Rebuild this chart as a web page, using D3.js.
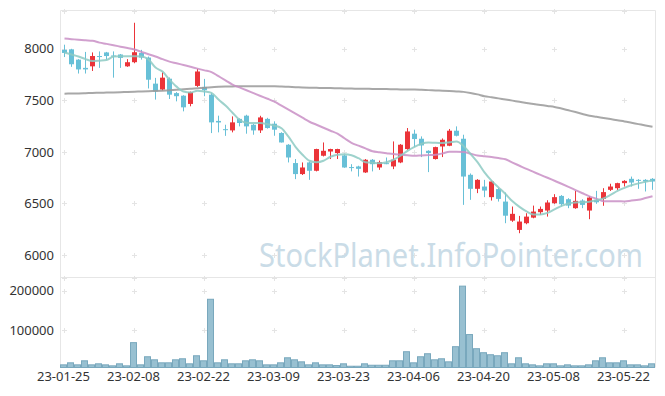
<!DOCTYPE html>
<html>
<head>
<meta charset="utf-8">
<script src="https://cdn.jsdelivr.net/npm/d3@7"></script>
<style>
  body { margin: 0; background: #fff; }
  text { font-family: "Noto Sans", sans-serif; }
</style>
</head>
<body>
<svg id="chart" width="665" height="396"></svg>
<script>
// trading days
var dates = ["23-01-25","23-01-26","23-01-27","23-01-30","23-01-31","23-02-01","23-02-02","23-02-03","23-02-06","23-02-07",
  "23-02-08","23-02-09","23-02-10","23-02-13","23-02-14","23-02-15","23-02-16","23-02-17","23-02-20","23-02-21",
  "23-02-22","23-02-23","23-02-24","23-02-27","23-02-28","23-03-02","23-03-03","23-03-06","23-03-07","23-03-08",
  "23-03-09","23-03-10","23-03-13","23-03-14","23-03-15","23-03-16","23-03-17","23-03-20","23-03-21","23-03-22",
  "23-03-23","23-03-24","23-03-27","23-03-28","23-03-29","23-03-30","23-03-31","23-04-03","23-04-04","23-04-05",
  "23-04-06","23-04-07","23-04-10","23-04-11","23-04-12","23-04-13","23-04-14","23-04-17","23-04-18","23-04-19",
  "23-04-20","23-04-21","23-04-24","23-04-25","23-04-26","23-04-27","23-04-28","23-05-02","23-05-03","23-05-04",
  "23-05-08","23-05-09","23-05-10","23-05-11","23-05-12","23-05-15","23-05-16","23-05-17","23-05-18","23-05-19",
  "23-05-22","23-05-23","23-05-24","23-05-25","23-05-26"];

var open = [7990,7995,7895,7815,7830,7930,7965,7935,7945,7830,
  7870,7960,7915,7662,7605,7710,7570,7545,7465,7640,
  7630,7555,7300,7220,7208,7320,7351,7263,7208,7320,
  7273,7183,7069,6891,6784,6897,6816,6962,7003,6988,
  6965,6852,6858,6800,6923,6848,6890,6858,6897,7027,
  7176,7127,7010,6930,7052,7059,7205,7127,6777,6641,
  6663,6560,6638,6517,6332,6242,6307,6361,6414,6430,
  6502,6572,6540,6453,6527,6430,6534,6543,6631,6647,
  6696,6738,6728,6728,6738];
var high = [8040,8000,7900,7970,7965,7975,7970,7975,7950,7900,
  8253,7990,7925,7718,7772,7722,7580,7550,7585,7805,
  7708,7570,7351,7263,7344,7325,7360,7270,7350,7330,
  7296,7190,7075,6930,6897,6905,7030,7091,7030,7030,
  6970,6880,6865,6930,6930,6915,6945,7101,7075,7231,
  7215,7150,7015,7050,7130,7222,7247,7166,6790,6735,
  6728,6720,6650,6605,6469,6378,6404,6478,6469,6530,
  6589,6580,6550,6621,6540,6570,6621,6647,6690,6700,
  6725,6760,6735,6735,6745];
var low = [7920,7825,7760,7760,7785,7815,7895,7720,7815,7825,
  7860,7895,7615,7507,7595,7513,7490,7393,7442,7630,
  7540,7182,7189,7155,7189,7247,7176,7166,7183,7225,
  7156,7090,6897,6735,6775,6728,6810,6955,6930,6930,
  6845,6810,6760,6795,6810,6825,6880,6832,6890,7020,
  7046,6949,6803,6925,6949,7055,7150,6485,6534,6599,
  6560,6527,6517,6307,6320,6210,6297,6355,6388,6371,
  6495,6469,6453,6447,6453,6346,6495,6476,6620,6630,
  6663,6663,6641,6615,6631];
var close = [7960,7850,7800,7800,7930,7925,7930,7930,7912,7870,
  7967,7915,7700,7587,7720,7555,7540,7432,7580,7780,
  7598,7286,7285,7212,7286,7280,7247,7208,7334,7231,
  7215,7091,6945,6784,6848,6816,7027,7010,7027,7027,
  6848,6845,6835,6923,6880,6900,6885,6923,7069,7198,
  7124,7062,6988,7046,7117,7205,7156,6760,6641,6728,
  6624,6712,6543,6380,6398,6323,6371,6420,6446,6508,
  6560,6492,6478,6524,6485,6556,6510,6609,6663,6696,
  6718,6702,6718,6712,6712];
var volume = [12700,17800,12700,22900,12700,15300,12700,10200,15300,10200,
  68700,12700,33100,25400,17800,17800,25400,28000,15300,35600,
  22900,178100,17800,25400,15300,15300,22900,25400,22900,12700,
  12700,17800,30500,25400,20300,12700,17800,12700,12700,10900,
  15300,9200,9200,15300,11700,11700,11700,22900,22900,45800,
  17800,33100,40700,25400,28000,20300,58500,211200,89100,53400,
  43300,38200,35600,43300,15300,30500,15300,12700,10200,15300,
  15300,10200,12700,10200,10200,12700,22900,30500,17800,17800,
  22900,12700,12700,10200,15300];
var ma5 = [7964,7945,7925,7900,7881,7885,7891,7925,7928,7928,
  7927,7925,7896,7818,7779,7701,7633,7585,7575,7594,
  7585,7572,7507,7449,7380,7312,7283,7280,7280,7268,
  7254,7229,7147,7049,6972,6913,6899,6913,6952,6972,
  6976,6967,6938,6899,6894,6889,6899,6923,6962,7010,
  7049,7079,7091,7087,7085,7093,7101,7057,6980,6900,
  6800,6720,6655,6590,6520,6466,6422,6392,6392,6407,
  6441,6475,6499,6509,6511,6516,6529,6548,6582,6621,
  6650,6675,6694,6709,6723];
var ma20 = [8100,8094,8088,8083,8078,8060,8048,8035,8021,8007,
  7993,7970,7948,7925,7900,7876,7860,7843,7826,7808,
  7791,7774,7734,7694,7653,7625,7598,7570,7542,7515,
  7487,7448,7409,7370,7331,7292,7263,7234,7205,7176,
  7132,7088,7060,7033,7005,6996,6987,6978,6973,6967,
  6962,6965,6968,6971,6985,7000,7000,6998,6982,6965,
  6957,6949,6939,6928,6896,6865,6834,6805,6776,6748,
  6719,6690,6660,6629,6598,6568,6545,6521,6520,6520,
  6519,6527,6534,6551,6568];
var ma60 = [7565,7566,7567,7569,7572,7573,7575,7577,7579,7582,
  7584,7586,7588,7591,7594,7598,7602,7607,7612,7617,
  7623,7628,7631,7633,7635,7636,7637,7637,7637,7636,
  7636,7634,7631,7628,7625,7623,7621,7620,7619,7617,
  7615,7614,7613,7612,7611,7610,7609,7608,7606,7605,
  7604,7602,7599,7596,7593,7590,7586,7582,7572,7558,
  7540,7530,7519,7508,7497,7486,7475,7465,7455,7445,
  7436,7420,7403,7386,7368,7351,7340,7329,7318,7306,
  7295,7282,7269,7256,7244];
var priceTicks = [6000, 6500, 7000, 7500, 8000];
var volumeTicks = [100000, 200000];
var dateTicks = dates.filter(function(d, i) { return i % 10 == 0; });

var svg = d3.select("#chart");
var plotLeft = 60, plotRight = 655, plotTop = 10.5, plotMid = 277.5, plotBottom = 367.5;

var x = d3.scaleBand().domain(dates).range([plotLeft, plotRight]).padding(0);
var y = d3.scaleLinear().domain([5780, 8372]).range([plotMid, plotTop]);
var yv = d3.scaleLinear().domain([6000, 233000]).range([plotBottom, plotMid]);
function cx(d) { return Math.round(x(d) + x.bandwidth() / 2) + 0.5; }

svg.append("defs").append("clipPath").attr("id", "clipPrice")
  .append("rect").attr("x", plotLeft).attr("y", plotTop)
  .attr("width", plotRight - plotLeft).attr("height", plotMid - plotTop);

// borders
svg.append("path")
  .attr("d", "M" + (plotLeft + 0.5) + "," + plotBottom + "V" + plotTop + "H" + (plotRight + 0.5) + "V" + plotBottom)
  .attr("fill", "none").attr("stroke", "#e6e6e6");
svg.append("line").attr("x1", plotLeft).attr("x2", plotRight + 0.5).attr("y1", plotMid).attr("y2", plotMid)
  .attr("stroke", "#e6e6e6");

// grid crosses
var crossY = priceTicks.map(function(t) { return y(t); }).concat([plotTop, plotMid])
  .concat(volumeTicks.map(function(t) { return yv(t); }));
var crossX = dateTicks.map(cx);
var grid = svg.append("g").attr("stroke", "#e4e4e4");
crossX.forEach(function(gx) {
  crossY.forEach(function(gy) {
    gy = Math.round(gy) + 0.5;
    grid.append("line").attr("x1", gx - 2.5).attr("x2", gx + 2.5).attr("y1", gy).attr("y2", gy);
    grid.append("line").attr("x1", gx).attr("x2", gx).attr("y1", gy - 2.5).attr("y2", gy + 2.5);
  });
});

// watermark (narrowed horizontally like the original font)
svg.append("g")
  .attr("transform", "translate(643,267) scale(0.88,1)")
  .append("text")
  .attr("text-anchor", "end")
  .attr("font-size", 33)
  .attr("fill", "#cadce7")
  .text("StockPlanet.InfoPointer.com");

// axes
var yAxis = svg.append("g").attr("transform", "translate(" + plotLeft + ",0)")
  .call(d3.axisLeft(y).tickValues(priceTicks).tickFormat(d3.format("d")).tickSize(0).tickPadding(6));
var vAxis = svg.append("g").attr("transform", "translate(" + plotLeft + ",0)")
  .call(d3.axisLeft(yv).tickValues(volumeTicks).tickFormat(d3.format("d")).tickSize(0).tickPadding(6));
var xAxis = svg.append("g").attr("transform", "translate(0," + plotBottom + ")")
  .call(d3.axisBottom(x).tickValues(dateTicks).tickSize(0).tickPadding(4));
[yAxis, vAxis, xAxis].forEach(function(a) {
  a.select(".domain").remove();
  a.selectAll("text").attr("font-size", 13).attr("fill", "#333")
    .style("font-family", "'Noto Sans', sans-serif");
});

// volume bars
svg.append("g").selectAll("rect").data(dates).enter().append("rect")
  .attr("x", function(d) { return x(d) + 0.5; })
  .attr("y", function(d, i) { return yv(volume[i]); })
  .attr("width", x.bandwidth() - 1)
  .attr("height", function(d, i) { return plotBottom - yv(volume[i]); })
  .attr("fill", "#98c0d1")
  .attr("stroke", "#79a8bd");

// candles
var up = "#eb3439", down = "#68c0d7";
var candles = svg.append("g").attr("clip-path", "url(#clipPrice)");
var c = candles.selectAll("g").data(dates).enter().append("g");
c.append("line")
  .attr("x1", cx).attr("x2", cx)
  .attr("y1", function(d, i) { return y(high[i]); })
  .attr("y2", function(d, i) { return y(low[i]); })
  .attr("stroke", function(d, i) { return close[i] > open[i] ? up : down; });
c.append("rect")
  .attr("x", function(d) { return cx(d) - 2.5; })
  .attr("width", 5)
  .attr("y", function(d, i) { return y(Math.max(open[i], close[i])); })
  .attr("height", function(d, i) { return Math.max(1, Math.abs(y(open[i]) - y(close[i]))); })
  .attr("fill", function(d, i) { return close[i] > open[i] ? up : down; });

// moving averages
function maLine(vals, color) {
  var line = d3.line()
    .x(function(d, i) { return cx(dates[i]); })
    .y(function(d) { return y(d); })
    .curve(d3.curveMonotoneX);
  candles.append("path")
    .attr("d", line(vals))
    .attr("fill", "none")
    .attr("stroke", color)
    .attr("stroke-width", 2)
    .attr("stroke-opacity", 0.85);
}
maLine(ma60, "#999999");
maLine(ma20, "#c98fc6");
maLine(ma5, "#8dcac3");
</script>
</body>
</html>
